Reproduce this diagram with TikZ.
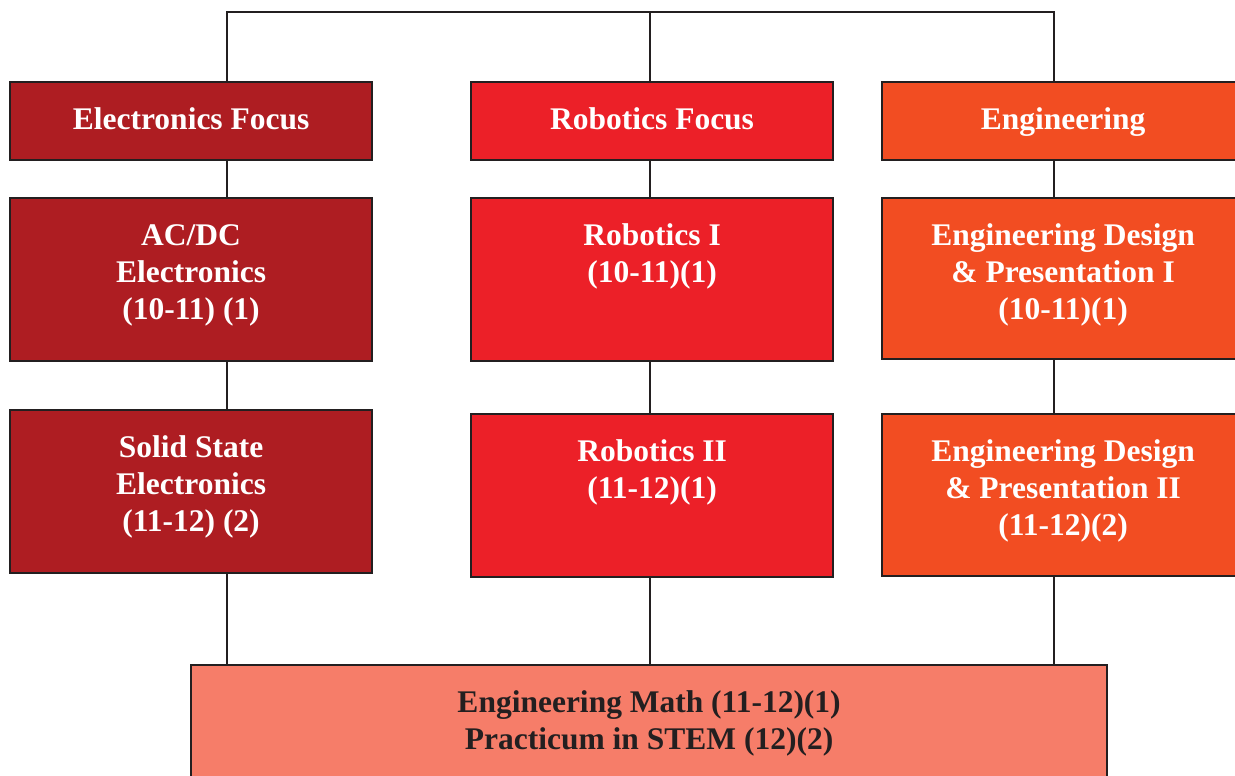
\documentclass[tikz,border=0pt]{standalone}
\usepackage{fontspec}
\setmainfont{Liberation Serif}
\definecolor{elec}{HTML}{AE1D22}
\definecolor{robo}{HTML}{EC2028}
\definecolor{engi}{HTML}{F24D22}
\definecolor{math}{HTML}{F67D69}
\definecolor{ink}{HTML}{231F20}
\newcommand\boxtext[3]{\parbox[c][#2pt][t]{#1pt}{\centering\fontsize{31.5}{37}\selectfont\bfseries\rule{0pt}{47pt}#3}}
\tikzset{
  cbox/.style={draw=ink, line width=2.2pt, inner sep=0pt, anchor=north west, text=white},
  boxE/.style={cbox, fill=elec},
  boxR/.style={cbox, fill=robo},
  boxG/.style={cbox, fill=engi},
  boxM/.style={cbox, fill=math, text=ink},
  link/.style={draw=ink, line width=2pt}
}
\begin{document}
\begin{tikzpicture}[x=1pt,y=-1pt]
\useasboundingbox (0,0) rectangle (1235,776);
\clip (0,0) rectangle (1235,776);
\fill[white] (0,0) rectangle (1235,776);
% left column
\node[boxE] (E0) at (9,81) {\boxtext{362}{78}{Electronics Focus}};
\node[boxE] (E1) at (9,197) {\boxtext{362}{163}{AC/DC\\Electronics\\(10-11) (1)}};
\node[boxE] (E2) at (9,409) {\boxtext{362}{163}{Solid State\\Electronics\\(11-12) (2)}};
% centre column
\node[boxR] (R0) at (470,81) {\boxtext{362}{78}{Robotics Focus}};
\node[boxR] (R1) at (470,197) {\boxtext{362}{163}{Robotics I\\(10-11)(1)}};
\node[boxR] (R2) at (470,413) {\boxtext{362}{163}{Robotics II\\(11-12)(1)}};
% right column
\node[boxG] (G0) at (881,81) {\boxtext{362}{78}{Engineering}};
\node[boxG] (G1) at (881,197) {\boxtext{362}{161}{Engineering Design\\\& Presentation I\\(10-11)(1)}};
\node[boxG] (G2) at (881,413) {\boxtext{362}{162}{Engineering Design\\\& Presentation II\\(11-12)(2)}};
% bottom
\node[boxM] (B) at (190,664) {\boxtext{916}{130}{Engineering Math (11-12)(1)\\Practicum in STEM (12)(2)}};
% connectors
\coordinate (TL) at (227,12);
\coordinate (TC) at (650,12);
\coordinate (TR) at (1054,12);
\draw[link] (E0.north -| TL) -- (TL) -- (TR) -- (G0.north -| TR);
\draw[link] (TC) -- (R0.north -| TC);
\draw[link] (E0.south -| TL) -- (E1.north -| TL);
\draw[link] (E1.south -| TL) -- (E2.north -| TL);
\draw[link] (E2.south -| TL) -- (B.north -| TL);
\draw[link] (R0.south -| TC) -- (R1.north -| TC);
\draw[link] (R1.south -| TC) -- (R2.north -| TC);
\draw[link] (R2.south -| TC) -- (B.north -| TC);
\draw[link] (G0.south -| TR) -- (G1.north -| TR);
\draw[link] (G1.south -| TR) -- (G2.north -| TR);
\draw[link] (G2.south -| TR) -- (B.north -| TR);
\end{tikzpicture}
\end{document}
